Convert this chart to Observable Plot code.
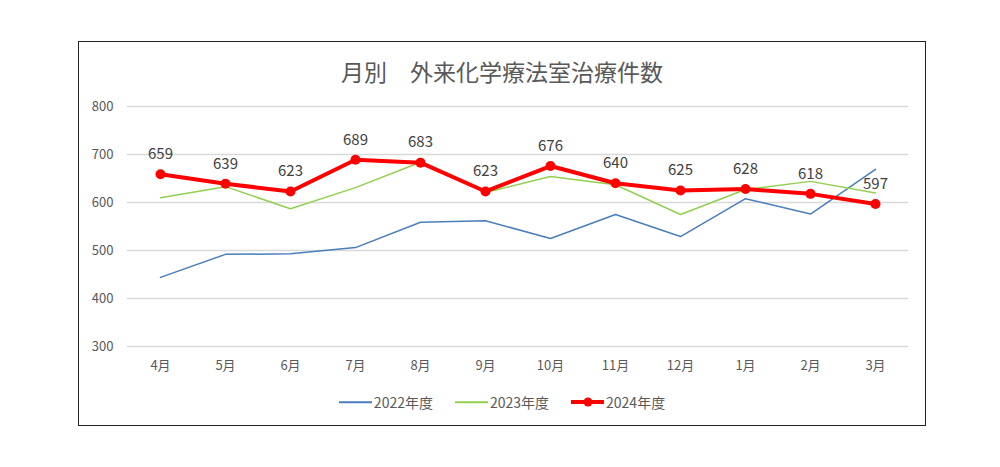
<!DOCTYPE html>
<html><head><meta charset="utf-8">
<script src="https://cdn.jsdelivr.net/npm/d3@7"></script>
<script src="https://cdn.jsdelivr.net/npm/@observablehq/plot@0.6"></script>
<style>
html,body{margin:0;padding:0;background:#fff;width:1000px;height:467px;overflow:hidden;font-family:"Noto Sans CJK JP","Noto Sans",sans-serif;}
#frame{position:absolute;left:78px;top:41px;width:846px;height:383px;border:1.5px solid #222;background:#fff;}
#title{position:absolute;left:0;top:12px;width:100%;text-align:center;font-size:23px;color:#595959;}
#chart{position:absolute;left:0;top:0;}
#legend{position:absolute;left:0;top:350px;width:100%;display:flex;justify-content:center;gap:22px;font-size:14px;color:#595959;}
.li{display:flex;align-items:center;gap:2px;}
.sw{position:relative;width:33px;height:12px;}
.sw span{position:absolute;left:0;top:50%;width:100%;transform:translateY(-50%);}
.sw i{position:absolute;left:50%;top:50%;width:9px;height:9px;border-radius:50%;background:#ff0000;transform:translate(-50%,-50%);}
</style></head>
<body>
<div id="frame">
  <div id="title">月別　外来化学療法室治療件数</div>
  <div id="chart"></div>
  <div id="legend"></div>
</div>
<script>
const months = ["4月","5月","6月","7月","8月","9月","10月","11月","12月","1月","2月","3月"];
const series = ["2022年度","2023年度","2024年度"];
const v2022 = [444,492,493,506,559,562,525,575,529,608,576,669];
const v2023 = [610,633,587,631,684,621,654,637,575,627,644,620];
const v2024 = [659,639,623,689,683,623,676,640,625,628,618,597];
const yTicks = [300,400,500,600,700,800];
const colors = ["#4a7ebb","#92d050","#ff0000"];

const rows = [];
[v2022,v2023,v2024].forEach((vals,si)=>vals.forEach((v,i)=>rows.push({month:months[i],value:v,series:series[si]})));
const r2024 = rows.filter(d=>d.series==="2024年度");

const plot = Plot.plot({
  width: 846, height: 334,
  marginLeft: 48, marginRight: 17, marginTop: 64, marginBottom: 30,
  style:{fontFamily:'"Noto Sans CJK JP","Noto Sans",sans-serif', fontSize:"13px", color:"#595959", background:"transparent"},
  x:{type:"point", domain:months, padding:0.46, label:null},
  y:{domain:[300,800], label:null},
  color:{domain:series, range:colors},
  marks:[
    Plot.gridY(yTicks,{stroke:"#d9d9d9", strokeOpacity:1, strokeWidth:1.5}),
    Plot.axisY(yTicks,{tickSize:0, tickPadding:14, fontSize:13, fill:"#595959", label:null}),
    Plot.axisX({tickSize:0, tickPadding:14, fontSize:13, fill:"#595959", label:null}),
    Plot.line(rows.filter(d=>d.series!=="2024年度"),{x:"month", y:"value", z:"series", stroke:"series", strokeWidth:1.5}),
    Plot.line(r2024,{x:"month", y:"value", stroke:"series", strokeWidth:4, strokeLinejoin:"round"}),
    Plot.dot(r2024,{x:"month", y:"value", fill:"series", r:5}),
    Plot.text(r2024,{x:"month", y:"value", text:d=>String(d.value), dy:-20, fontSize:15, fill:"#404040"})
  ]
});
document.getElementById("chart").appendChild(plot);

const lg = document.getElementById("legend");
series.forEach((s,i)=>{
  const it = document.createElement("div"); it.className="li";
  const sw = document.createElement("div"); sw.className="sw";
  const ln = document.createElement("span");
  ln.style.height = (i===2?4:1.5)+"px"; ln.style.background = colors[i];
  sw.appendChild(ln);
  if(i===2){ sw.appendChild(document.createElement("i")); }
  const tx = document.createElement("span"); tx.textContent = s;
  it.appendChild(sw); it.appendChild(tx); lg.appendChild(it);
});
</script>
</body></html>
